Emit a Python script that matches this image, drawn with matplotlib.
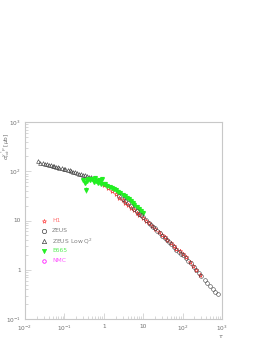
import matplotlib
matplotlib.use("Agg")
import matplotlib.pyplot as plt
from matplotlib.ticker import LogLocator, NullFormatter, FixedLocator, FixedFormatter

# ---- data ----
zeus_lowq2_tau = [0.022, 0.024, 0.028, 0.032, 0.036, 0.040, 0.045, 0.050, 0.055, 0.060,
                  0.068, 0.075, 0.085, 0.095, 0.105, 0.120, 0.135, 0.150, 0.170, 0.190,
                  0.210, 0.240, 0.270, 0.300, 0.340, 0.380, 0.420, 0.460]
zeus_lowq2_sig = [158, 150, 147, 141, 139, 134, 132, 129, 125, 124,
                  121, 117, 115, 111, 110, 106, 104, 100, 98, 95,
                  93, 90, 86, 84, 82, 80, 77, 76]

e665_tau = [0.30, 0.33, 0.35, 0.37, 0.40, 0.45, 0.50, 0.55, 0.60, 0.65, 0.70, 0.75,
            0.80, 0.85, 0.90, 1.0, 1.1, 1.2, 1.4, 1.6, 1.8, 2.0, 2.3, 2.6, 3.0, 3.4,
            3.8, 4.3, 5.0, 5.5, 6.0, 7.0, 8.0, 9.0, 10.0]
e665_sig = [66, 58, 42, 62, 70, 65, 68, 60, 72, 62, 58, 66,
            60, 56, 70, 55, 54, 51, 48, 46, 43, 41, 38, 36, 33, 31,
            29, 27, 25, 23, 21, 19, 17, 15.5, 14.5]
e665_err = [4, 5, 6, 5, 5, 4, 4, 4, 4, 3, 3, 3,
            3, 3, 3, 2, 2, 2, 2, 2, 2, 1.5, 1.5, 1.5, 1.5, 1.2,
            1.2, 1.0, 1.0, 1.0, 0.9, 0.8, 0.8, 0.7, 0.7]

h1_tau = [1.0, 1.3, 1.6, 2.0, 2.5, 3.0, 3.5, 4.0, 5.0, 6.0, 7.0, 8.0, 10.0, 12.0,
          14.0, 17.0, 20.0, 25.0, 30.0, 35.0, 40.0, 50.0, 60.0, 70.0, 85.0, 100.0,
          120.0, 150.0, 180.0, 220.0, 280.0]
h1_sig = [52, 45, 40, 34, 29, 25.5, 23, 21, 18, 16, 14.5, 13.2, 11.2, 9.8,
          8.8, 7.6, 6.8, 5.8, 5.1, 4.6, 4.1, 3.5, 3.0, 2.7, 2.35, 2.1,
          1.8, 1.45, 1.2, 1.0, 0.78]

zeus_tau = [2.5, 3.0, 3.5, 4.0, 5.0, 6.0, 7.0, 8.0, 9.0, 10.0, 12.0, 14.0, 16.0, 18.0,
            20.0, 23.0, 26.0, 30.0, 35.0, 40.0, 45.0, 50.0, 60.0, 70.0, 80.0, 90.0,
            100.0, 120.0, 140.0, 160.0, 190.0, 220.0, 260.0, 300.0, 360.0, 420.0,
            500.0, 580.0, 680.0, 800.0]
zeus_sig = [31, 27, 25, 23, 19.5, 17, 15.3, 13.8, 12.7, 11.8, 10.2, 9.1, 8.2, 7.5,
            6.9, 6.1, 5.5, 4.9, 4.4, 3.95, 3.6, 3.3, 2.85, 2.55, 2.3, 2.12,
            1.98, 1.7, 1.5, 1.35, 1.15, 1.0, 0.86, 0.75, 0.63, 0.55,
            0.47, 0.41, 0.36, 0.32]

series_labels = ["H1", "ZEUS", "ZEUS Low Q$^2$", "E665", "NMC"]
x_ticks = [1e-2, 1e-1, 1, 10, 1e2, 1e3]
x_ticklabels = ["10$^{-2}$", "10$^{-1}$", "1", "10", "10$^2$", "10$^3$"]
y_ticks = [1e-1, 1, 10, 1e2, 1e3]
y_ticklabels = ["10$^{-1}$", "1", "10", "10$^2$", "10$^3$"]

# ---- style ----
W, H = 266, 344
fig = plt.figure(figsize=(W / 100, H / 100), dpi=100)
ax = fig.add_axes([25 / W, 1 - 319 / H, 197 / W, 197 / H])
ax.set_xscale("log")
ax.set_yscale("log")
ax.set_xlim(1e-2, 1e3)
ax.set_ylim(1e-1, 1e3)

frame_col = "#c8c8c8"
txt_col = "#707070"
for s in ax.spines.values():
    s.set_color(frame_col)
    s.set_linewidth(0.8)

ax.xaxis.set_major_locator(FixedLocator(x_ticks))
ax.xaxis.set_major_formatter(FixedFormatter(x_ticklabels))
ax.yaxis.set_major_locator(FixedLocator(y_ticks))
ax.yaxis.set_major_formatter(FixedFormatter(y_ticklabels))
ax.xaxis.set_minor_locator(LogLocator(base=10, subs=range(2, 10), numticks=20))
ax.yaxis.set_minor_locator(LogLocator(base=10, subs=range(2, 10), numticks=20))
ax.xaxis.set_minor_formatter(NullFormatter())
ax.yaxis.set_minor_formatter(NullFormatter())
ax.tick_params(which="both", direction="in", color=frame_col, labelcolor=txt_col,
               labelsize=4.2, top=False, right=False, width=0.5)
ax.tick_params(which="major", length=4)
ax.tick_params(axis="x", which="major", pad=3.5)
ax.tick_params(axis="y", which="major", pad=3)
ax.tick_params(which="minor", length=2)

ms = 2.7
ax.plot(zeus_lowq2_tau, zeus_lowq2_sig, ls="none", marker="^", ms=ms,
        mfc="none", mec="#303030", mew=0.4, zorder=3)
ax.errorbar(e665_tau, e665_sig, yerr=e665_err, ls="none", marker="v", ms=ms,
            color="#22ee22", mec="#22ee22", elinewidth=0.5, capsize=0, zorder=4)
ax.plot(h1_tau, h1_sig, ls="none", marker="*", ms=ms + 0.6,
        mfc="none", mec="#ee2020", mew=0.45, zorder=3)
ax.plot(zeus_tau, zeus_sig, ls="none", marker="o", ms=ms,
        mfc="none", mec="#404040", mew=0.4, zorder=5)

# legend (manual)
leg_markers = [dict(marker="*", mfc="none", mec="#ff5050"),
               dict(marker="o", mfc="none", mec="#404040"),
               dict(marker="^", mfc="none", mec="#404040"),
               dict(marker="v", mfc="#22ee22", mec="#22ee22"),
               dict(marker="P", mfc="none", mec="#ff40ff")]
leg_colors = ["#ff7070", "#808080", "#808080", "#55ee55", "#ff55ff"]
for i, lab in enumerate(series_labels):
    yy = (319 - (221 + 10 * i)) / 197
    ax.plot([0.096], [yy], transform=ax.transAxes, ls="none", ms=ms + 0.4,
            mew=0.5, clip_on=False, **leg_markers[i])
    ax.text(0.137, yy, lab, transform=ax.transAxes, color=leg_colors[i],
            fontsize=4.3, va="center", ha="left")

fig.text(6.5 / W, 1 - 146 / H, r"$\sigma^{\gamma^* p}_{tot}$ [$\mu$b]", rotation=90,
         color=txt_col, fontsize=4.2, ha="center", va="center")
fig.text(221 / W, 1 - 336 / H, r"$\tau$", color=txt_col, fontsize=4.5,
         ha="center", va="center")

fig.savefig("out.png", dpi=100)
